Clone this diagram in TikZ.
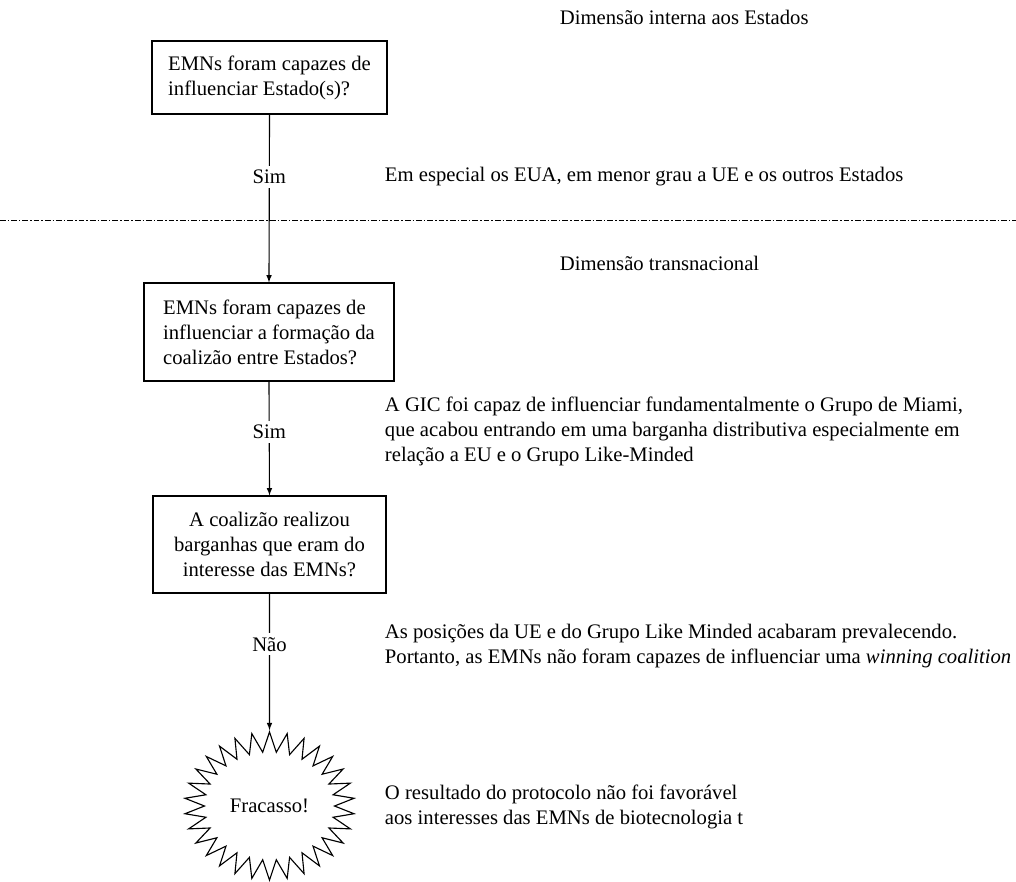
\documentclass[tikz,border=0pt]{standalone}
\usepackage{fontspec}
\setmainfont{Liberation Serif}
\usetikzlibrary{arrows,shapes.symbols,positioning}
\tikzset{
	question/.style={draw,line width=0.8pt,inner xsep=0.35cm},
	answer/.style={fill=white,inner sep=3pt},
	note/.style={anchor=west,align=left},
}
\begin{document}
\begin{tikzpicture}[x=0.025cm,y=-0.025cm,font=\fontsize{14.7}{17.8}\selectfont]
		\useasboundingbox (0,0) rectangle (1016,881);
		\node[note] (intern) at (555,17) {Dimensão interna aos Estados};
		\node[note] (trans) at (555,263) {Dimensão transnacional};
		\draw[line width=0.6pt,dash pattern=on 4pt off 1.5pt on 1pt off 1.5pt] (0,220) -- (1016,220);
		\node[question,align=left,minimum width=5.875cm,minimum height=1.825cm] (q1) at (269.5,77.5) {EMNs foram capazes de\\influenciar Estado(s)?};
		\node[question,align=left,minimum width=6.25cm,minimum height=2.45cm] (q2) at (269,332) {EMNs foram capazes de\\influenciar a formação da\\coalizão entre Estados?};
		\node[question,align=center,minimum width=5.825cm,minimum height=2.425cm] (q3) at (269.5,544.5) {A coalizão realizou\\barganhas que eram do\\interesse das EMNs?};
		\node[starburst,draw,line width=0.8pt,starburst points=30,starburst point height=0.5cm,random starburst=0,minimum width=4.25cm,minimum height=3.7cm] (fail) at (269.5,806) {Fracasso!};
		\draw[-latex,line width=0.8pt] (q1.south) -- node[answer,pos=0.37] (yes1) {Sim} (q2.north);
		\draw[-latex,line width=0.8pt] (q2.south) -- node[answer,pos=0.44] (yes2) {Sim} (q3.north);
		\draw[-latex,line width=0.8pt] (q3.south) -- node[answer,pos=0.37] (no) {Não} (fail.north);
		\node[note] (usa) at (380,177) {Em especial os EUA, em menor grau a UE e os outros Estados};
		\node[note] (gic) at (380,431) {A GIC foi capaz de influenciar fundamentalmente o Grupo de Miami,\\que acabou entrando em uma barganha distributiva especialmente em\\relação a EU e o Grupo Like-Minded};
		\node[note] (like) at (380,646) {As posições da UE e do Grupo Like Minded acabaram prevalecendo.\\Portanto, as EMNs não foram capazes de influenciar uma \textit{winning coalition}};
		\node[note] (proto) at (380,807) {O resultado do protocolo não foi favorável\\aos interesses das EMNs de biotecnologia t};
	\end{tikzpicture}
\end{document}
